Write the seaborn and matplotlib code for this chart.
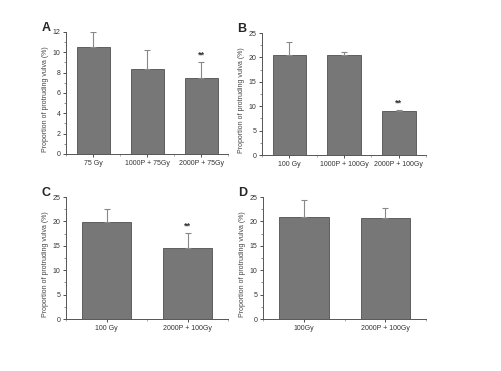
import numpy as np
import pandas as pd
import matplotlib
matplotlib.use('Agg')
import matplotlib.pyplot as plt
from matplotlib.ticker import MultipleLocator
import seaborn as sns

# 数据
groups_a = ["75 Gy", "1000P + 75Gy", "2000P + 75Gy"]
means_a = [10.5, 8.4, 7.5]
errs_a = [1.5, 1.8, 1.5]
sig_a = ["", "", "**"]

groups_b = ["100 Gy", "1000P + 100Gy", "2000P + 100Gy"]
means_b = [20.5, 20.4, 9.1]
errs_b = [2.7, 0.7, 0.1]
sig_b = ["", "", "**"]

groups_c = ["100 Gy", "2000P + 100Gy"]
means_c = [19.8, 14.6]
errs_c = [2.7, 3.0]
sig_c = ["", "**"]

groups_d = ["100Gy", "2000P + 100Gy"]
means_d = [21.0, 20.6]
errs_d = [3.3, 2.2]
sig_d = ["", ""]

ylabel = "Proportion of protruding vulva (%)"

sns.set_style("white")
plt.rcParams['font.family'] = ['Liberation Sans', 'DejaVu Sans']

fig = plt.figure(figsize=(5.02, 3.71), dpi=100)

panels = [
    ("A", groups_a, means_a, errs_a, sig_a, 12, 2, [0.1315, 0.585, 0.323, 0.329], 0.8),
    ("B", groups_b, means_b, errs_b, sig_b, 25, 5, [0.522, 0.582, 0.327, 0.329], 1.3),
    ("C", groups_c, means_c, errs_c, sig_c, 25, 5, [0.1315, 0.140, 0.323, 0.329], 1.3),
    ("D", groups_d, means_d, errs_d, sig_d, 25, 5, [0.524, 0.140, 0.325, 0.329], 1.3),
]

for letter, groups, means, errs, sig, ymax, step, rect, pad in panels:
    ax = fig.add_axes(rect)
    df = pd.DataFrame({"group": groups, "value": means})
    sns.barplot(data=df, x="group", y="value", color="#777777", saturation=1,
                width=0.61, edgecolor="#505050", linewidth=0.6, errorbar=None, ax=ax)
    x = np.arange(len(groups))
    ax.errorbar(x, means, yerr=[np.zeros(len(errs)), errs], fmt="none",
                ecolor="#888888", elinewidth=0.8, capsize=2.5, capthick=0.8)
    for xi, m, e, s in zip(x, means, errs, sig):
        if s:
            ax.text(xi, m + e + pad * 0.35, s, ha="center", va="bottom",
                    fontsize=6.5, fontweight="bold", color="#333333")
    ax.set_xlim(-0.5, len(groups) - 0.5)
    ax.set_ylim(0, ymax)
    ax.yaxis.set_major_locator(MultipleLocator(step))
    ax.yaxis.set_minor_locator(MultipleLocator(step / 2))
    ax.xaxis.set_minor_locator(MultipleLocator(0.5))
    ax.tick_params(axis="y", which="major", direction="out", length=2.5, width=0.6,
                   labelsize=5, colors="#333333", left=True, pad=1.5)
    ax.tick_params(axis="y", which="minor", direction="out", length=1.5, width=0.5,
                   left=True, colors="#666666")
    ax.tick_params(axis="x", which="major", direction="out", length=2, width=0.6,
                   labelsize=5, colors="#333333", bottom=True, pad=2)
    ax.tick_params(axis="x", which="minor", direction="out", length=1.5, width=0.5,
                   bottom=True, colors="#888888")
    for side in ["top", "right"]:
        ax.spines[side].set_visible(False)
    for side in ["left", "bottom"]:
        ax.spines[side].set_color("#555555")
        ax.spines[side].set_linewidth(0.7)
    ax.set_xlabel("")
    ax.set_ylabel(ylabel, fontsize=5, color="#444444", labelpad=2)
    ax.yaxis.set_label_coords(-0.105, 0.45)
    ax.text(-0.125, 1.03, letter, transform=ax.transAxes, fontsize=9,
            fontweight="bold", ha="center", va="center")

fig.savefig("out.png", dpi=100)
